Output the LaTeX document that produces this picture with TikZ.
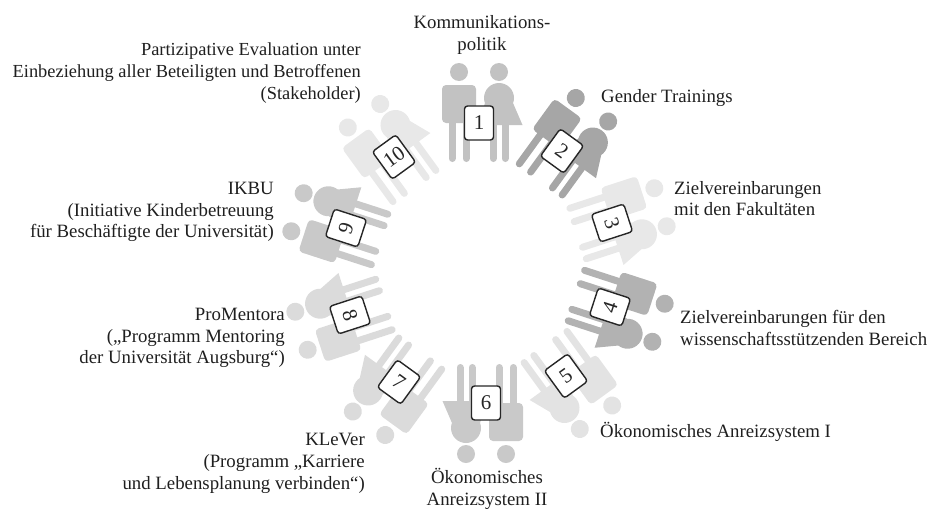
\documentclass[tikz,border=0pt]{standalone}
\usepackage{fontspec}
\setmainfont{Liberation Serif}
\tikzset{
  x=1pt,y=1pt,
  label text/.style={inner sep=0pt,text=black!88,font=\fontsize{18.8}{21.7}\selectfont},
  label tight/.style={inner sep=0pt,text=black!88,font=\fontsize{18.4}{21.7}\selectfont},
  badge/.style={draw=black!85,line width=1.4pt,fill=white,rounded corners=3pt,minimum width=29pt,minimum height=34pt,inner sep=0pt,font=\fontsize{21}{22}\selectfont,text=black!85},
  limb/.style={line width=7pt,line cap=round}
}
\newcommand{\couple}[1]{%
  % man
  \fill[#1,rounded corners=4pt] (-37,38) rectangle (-3,0);
  \fill[#1] (-20,51) circle (9);
  \draw[#1,limb] (-27,2) -- (-27,-35.5);
  \draw[#1,limb] (-13,2) -- (-13,-35.5);
  % woman
  \fill[#1] (20,25) circle (15);
  \fill[#1] (20,51) circle (9);
  \fill[#1] (34,20) -- (43.5,-2) -- (-1,-2) -- (6,20) -- cycle;
  \draw[#1,limb] (14,-1) -- (14,-35.5);
  \draw[#1,limb] (26,-1) -- (26,-35.5);
}
\begin{document}
\begin{tikzpicture}
\useasboundingbox (0,-509) rectangle (930,0);
\foreach \n/\bx/\by/\th/\g/\nr in {
  1/479/123/0/24/0,
  2/562/151/36/35/-36,
  3/612/223/72/9/-72,
  4/610/307/108/30/72,
  5/566/376/144/11/36,
  6/486/403/180/21/0,
  7/399/382/216/14/-36,
  8/350/315/252/14/-72,
  9/346/228/288/21/72,
  10/394/157/324/9/36}{
  \begin{scope}[shift={(\bx,-\by)},rotate=-\th]
    \couple{black!\g}
  \end{scope}
  \node[badge,rotate=\nr] (b\n) at (\bx,-\by) {\n};
}
\node[label text,align=center] (t1) at (482,-35) {Kommunikations-\\politik};
\node[label text,anchor=west] (t2) at (601,-98) {Gender Trainings};
\node[label text,align=left,anchor=west] (t3) at (674,-198.5) {Zielvereinbarungen\\mit den Fakultäten};
\node[label text,align=left,anchor=west] (t4) at (680,-328) {Zielvereinbarungen für den\\wissenschaftsstützenden Bereich};
\node[label text,anchor=west] (t5) at (600,-432) {Ökonomisches Anreizsystem I};
\node[label text,align=center] (t6) at (487,-489) {Ökonomisches\\Anreizsystem II};
\node[label text,align=right,anchor=east] (t7) at (365,-463.5) {KLeVer\\(Programm „Karriere\\und Lebensplanung verbinden“)};
\node[label text,align=right,anchor=east] (t8) at (285,-338) {ProMentora\\(„Programm Mentoring\\der Universität Augsburg“)};
\node[label text,align=right,anchor=east] (t9) at (274,-212) {IKBU\\(Initiative Kinderbetreuung\\für Beschäftigte der Universität)};
\node[label tight,align=right,anchor=east] (t10) at (361,-73) {Partizipative Evaluation unter\\Einbeziehung aller Beteiligten und Betroffenen\\(Stakeholder)};
\end{tikzpicture}
\end{document}
